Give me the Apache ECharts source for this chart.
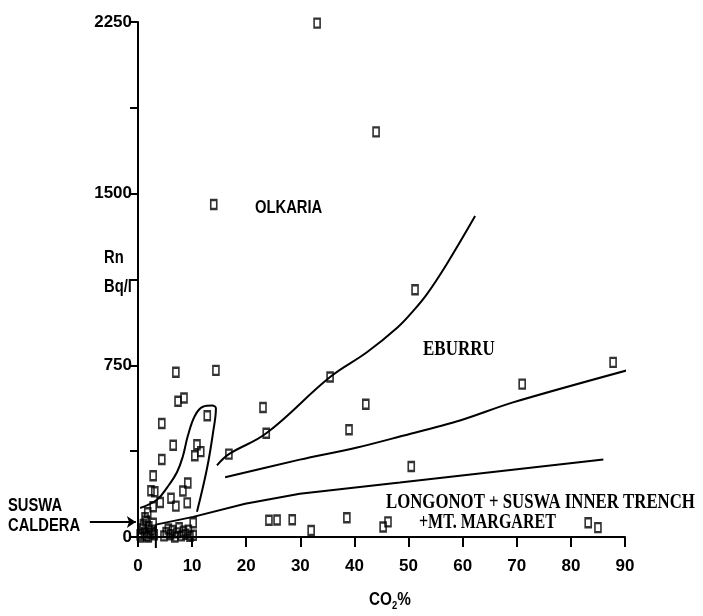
<!DOCTYPE html>
<html>
<head>
<meta charset="utf-8">
<script src="https://cdn.jsdelivr.net/npm/echarts@6/dist/echarts.min.js"></script>
<style>
html,body{margin:0;padding:0;background:#fff;}
#chart{width:703px;height:616px;}
</style>
</head>
<body>
<div id="chart"></div>
<script>
// ---- data (CO2 %, Rn Bq/l) ----
var olkariaPoints = [
  [33.1,2245],[44.0,1770],[14.0,1453],[51.2,1080],[7.0,720],[14.4,728],
  [35.5,699],[23.1,566],[42.1,580],[7.4,593],[8.5,607],[4.4,496],
  [6.5,401],[4.4,339],[2.8,268],[16.8,362],[23.7,453]
];
var eburruPoints = [[71.0,668],[87.8,763],[39.0,469],[50.5,308]];
var envelopePoints = [
  [12.8,530],[10.9,403],[11.6,373],[10.5,355],[9.2,236],[8.3,201],
  [7.0,135],[9.1,149],[6.1,169]
];
var nearAxisPoints = [
  [2.4,202],[3.1,198],[4.1,151],[2.8,132],[1.8,106],[1.3,84],[10.2,62],[10.2,8]
];
var longonotPoints = [
  [24.2,73],[25.7,74],[28.5,75],[32.0,28],[38.6,84],[46.2,66],[45.3,44],
  [83.2,62],[85.0,41]
];
var suswaCalderaPoints = [
  [0.4,10],[0.8,35],[1.0,55],[1.2,20],[1.5,70],[1.6,5],[2.0,45],[2.2,15],
  [2.5,30],[2.8,60],[0.5,0],[1.9,0],[3.0,10]
];
var innerTrenchPoints = [
  [4.8,5],[5.2,20],[5.6,35],[6.0,10],[6.4,28],[6.8,0],[7.2,18],[7.6,40],
  [8.0,5],[8.4,25],[8.8,12],[9.3,30],[9.6,3]
];

// boundary curves drawn on the original figure
var envelopeLoop = [
  [10.9,110],[12.75,299],[13.9,461],[14.4,562],[13.7,574],[12.0,569],
  [10.5,529],[9.2,441],[8.3,353],[7.2,283],[5.4,217],[3.5,163],[0.4,127]
];
var upperBoundary = [
  [14.6,313],[16.8,362],[23.7,453],[35.5,699],[42.3,807],[47.9,914],
  [50.8,986],[53.4,1061],[57.1,1194],[62.3,1402]
];
var middleBoundary = [
  [16.1,261],[29.9,338],[40.5,391],[48.4,439],[59.5,509],[69.3,588],[91.3,734]
];
var lowerBoundary = [
  [3.3,-48],[3.3,54],[10.2,88],[19.8,145],[29.9,189],[48.4,238],[86.0,339]
];
var calderaArrow = [[-8.9,66],[-0.4,66]];

// axes
var xMin = 0, xMax = 90, xStep = 10;
var yMin = 0, yMax = 2250, yStep = 375, yLabelStep = 750;

var sansFont = "'Liberation Sans','Arial',sans-serif";
var serifFont = "'Liberation Serif','DejaVu Serif',serif";

var allPoints = [].concat(olkariaPoints, eburruPoints, envelopePoints,
  nearAxisPoints, longonotPoints, suswaCalderaPoints, innerTrenchPoints);

var lineStyleBlack = {color:'#000', width:2};

function curve(name, data, smooth){
  return {
    type:'line', name:name, data:data, showSymbol:false, symbol:'none',
    smooth:smooth, clip:false, lineStyle:lineStyleBlack, silent:true, z:2
  };
}
function narrowText(x, y, text, size){
  return {type:'text', x:x, y:y, scaleX:0.82, scaleY:1.05,
    style:{text:text, font:'bold '+size+'px '+sansFont, fill:'#000',
      align:'left', verticalAlign:'middle'}};
}
function serifText(x, y, text, size, sy){
  return {type:'text', x:x, y:y, scaleY:sy,
    style:{text:text, font:'bold '+size+'px '+serifFont, fill:'#000',
      align:'left', verticalAlign:'middle'}};
}

var chart = echarts.init(document.getElementById('chart'), null, {renderer:'canvas'});
chart.setOption({
  animation:false,
  backgroundColor:'#fff',
  grid:{left:138, right:78, top:22, bottom:79, containLabel:false},
  xAxis:{
    type:'value', min:xMin, max:xMax, interval:xStep,
    axisLine:{show:true, onZero:false, lineStyle:{color:'#000', width:2}},
    axisTick:{show:true, length:10, lineStyle:{color:'#000', width:2}},
    axisLabel:{color:'#000', fontFamily:sansFont, fontWeight:'bold', fontSize:17, margin:21},
    splitLine:{show:false}
  },
  yAxis:{
    type:'value', min:yMin, max:yMax, interval:yStep,
    axisLine:{show:true, onZero:false, lineStyle:{color:'#000', width:2}},
    axisTick:{show:true, length:8, lineStyle:{color:'#000', width:2}},
    axisLabel:{
      color:'#000', fontFamily:sansFont, fontWeight:'bold', fontSize:17, margin:6,
      formatter:function(v){ return (v % yLabelStep === 0) ? String(v) : ''; }
    },
    splitLine:{show:false}
  },
  graphic:[
    narrowText(104, 258, 'Rn', 18),
    narrowText(104, 287, 'Bq/l', 18),
    narrowText(255, 208, 'OLKARIA', 18),
    narrowText(8, 506, 'SUSWA', 18),
    narrowText(8, 526, 'CALDERA', 18),
    {type:'text', x:369, y:600, scaleX:0.85,
      style:{text:'{a|CO}{b|2}{a|%}', fill:'#000', align:'left', verticalAlign:'middle',
        rich:{
          a:{font:'bold 18px '+sansFont, fill:'#000'},
          b:{font:'bold 11px '+sansFont, fill:'#000', padding:[12,0,0,0]}
        }}},
    serifText(423, 350, 'EBURRU', 17, 1.25),
    serifText(386, 502, 'LONGONOT + SUSWA INNER TRENCH', 16.8, 1.3),
    serifText(419, 523, '+MT. MARGARET', 16, 1.3)
  ],
  series:[
    curve('envelope', envelopeLoop, 0.4),
    curve('upper', upperBoundary, 0.4),
    curve('middle', middleBoundary, 0.3),
    curve('lower', lowerBoundary, false),
    {
      type:'lines', coordinateSystem:'cartesian2d', clip:false, silent:true,
      symbol:['none','arrow'], symbolSize:9,
      lineStyle:{color:'#000', width:2, opacity:1},
      data:[{coords:calderaArrow}]
    },
    {
      type:'scatter', name:'samples', data:allPoints, clip:false,
      symbol:'rect', symbolSize:[6,9], z:3,
      itemStyle:{color:'rgba(255,255,255,0)', borderColor:'#000', borderWidth:2}
    }
  ]
});
</script>
</body>
</html>
